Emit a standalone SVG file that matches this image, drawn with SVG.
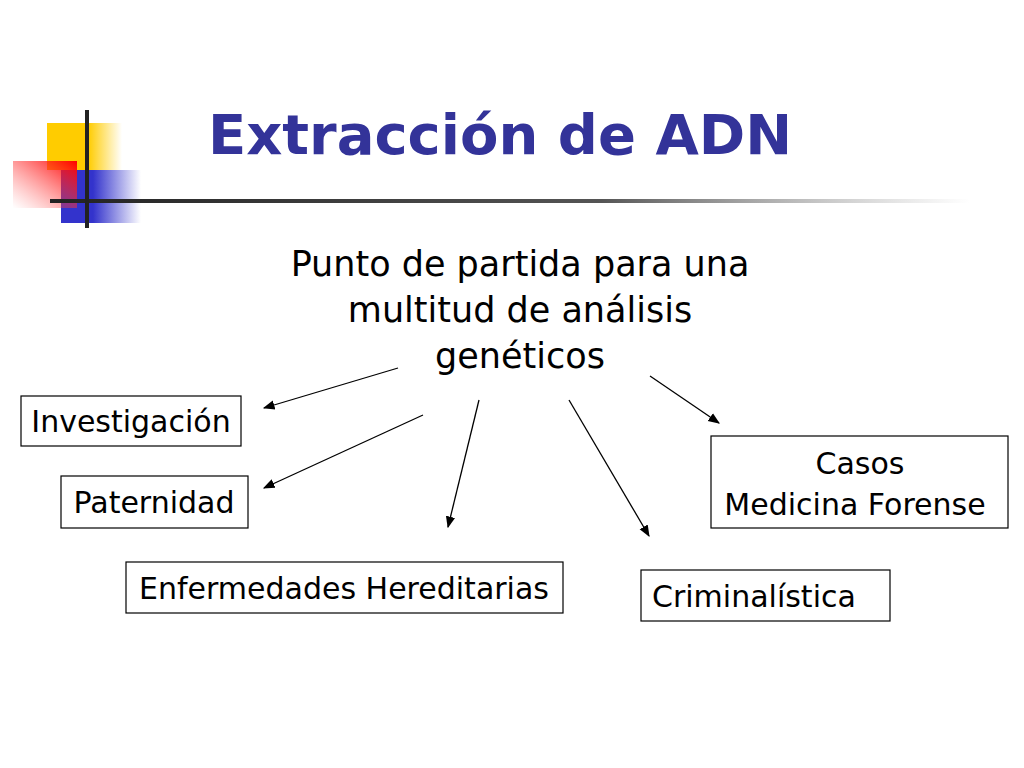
<svg xmlns="http://www.w3.org/2000/svg" width="1024" height="768" viewBox="0 0 1024 768">
<defs>
<linearGradient id="gy" x1="0" x2="1"><stop offset="0.55" stop-color="#ffcc00"/><stop offset="1" stop-color="#ffcc00" stop-opacity="0"/></linearGradient>
<linearGradient id="gb" x1="0" x2="1"><stop offset="0.4" stop-color="#3333cc"/><stop offset="1" stop-color="#3333cc" stop-opacity="0"/></linearGradient>
<linearGradient id="gr" x1="1" y1="0" x2="0" y2="1"><stop offset="0" stop-color="#ff0000"/><stop offset="1" stop-color="#ff6666" stop-opacity="0"/></linearGradient>
<linearGradient id="gl" x1="0" x2="1"><stop offset="0" stop-color="#222"/><stop offset="0.6" stop-color="#555"/><stop offset="1" stop-color="#888" stop-opacity="0"/></linearGradient>
<marker id="a" viewBox="0 0 10 10" refX="9" refY="5" markerWidth="9" markerHeight="9" orient="auto"><path d="M0,1 L10,5 L0,9 z" fill="#000"/></marker>
<style>
.t{font-family:"DejaVu Sans",sans-serif;font-size:30px;fill:#000}
.b{fill:#fff;stroke:#000;stroke-width:1.2}
.c line{stroke:#000;stroke-width:1.3;marker-end:url(#a)}
</style>
</defs>
<rect width="1024" height="768" fill="#fff"/>
<g id="deco">
<rect x="47" y="123" width="75" height="47" fill="url(#gy)"/>
<rect x="61" y="170" width="80" height="53" fill="url(#gb)"/>
<rect x="13" y="161" width="64" height="47" fill="url(#gr)"/>
<rect x="50" y="199" width="920" height="4" fill="url(#gl)"/>
<rect x="85" y="110" width="4" height="118" fill="#222"/>
</g>
<text x="500" y="154" text-anchor="middle" style="font-family:'DejaVu Sans',sans-serif;font-weight:bold;font-size:56px;fill:#333399">Extracción de ADN</text>
<g id="center"><text class="t" text-anchor="middle" style="font-size:35px"><tspan x="520" y="276">Punto de partida para una</tspan><tspan x="520" y="322">multitud de análisis</tspan><tspan x="520" y="368">genéticos</tspan></text></g>
<g class="c">
<line x1="398" y1="368" x2="264" y2="408"/>
<line x1="423" y1="415" x2="264" y2="488"/>
<line x1="479" y1="400" x2="448" y2="527"/>
<line x1="569" y1="400" x2="649" y2="536"/>
<line x1="650" y1="376" x2="719" y2="423"/>
</g>
<g id="n1"><rect class="b" x="21" y="396" width="220" height="50"/><text class="t" x="131" y="432" text-anchor="middle">Investigación</text></g>
<g id="n2"><rect class="b" x="61" y="476" width="187" height="52"/><text class="t" x="154" y="513" text-anchor="middle">Paternidad</text></g>
<g id="n3"><rect class="b" x="126" y="562" width="437" height="51"/><text class="t" x="344" y="599" text-anchor="middle">Enfermedades Hereditarias</text></g>
<g id="n4"><rect class="b" x="641" y="570" width="249" height="51"/><text class="t" x="652" y="607">Criminalística</text></g>
<g id="n5"><rect class="b" x="711" y="436" width="297" height="92"/><text class="t" text-anchor="middle"><tspan x="860" y="474">Casos</tspan><tspan x="855" y="515">Medicina Forense</tspan></text></g>
</svg>
